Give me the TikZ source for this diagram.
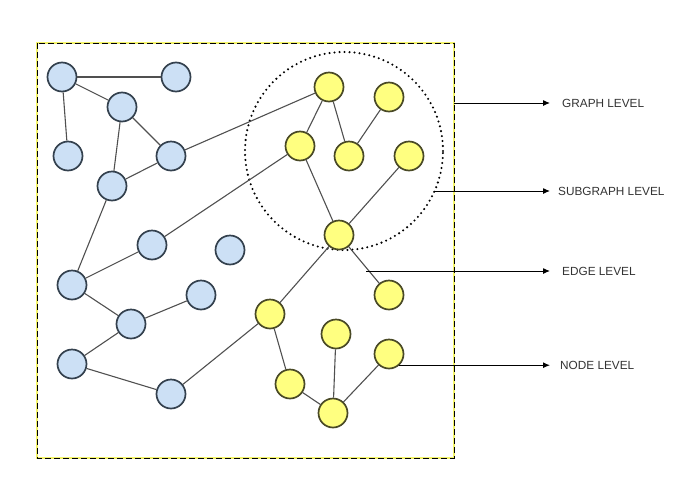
\documentclass[tikz,border=0pt]{standalone}
\usepackage{fontspec}
\setmainfont{Liberation Sans}
\usetikzlibrary{arrows.meta,shapes.geometric}
\definecolor{bluefill}{HTML}{CCE0F5}
\definecolor{blueline}{HTML}{34414E}
\definecolor{yelfill}{HTML}{FFFF80}
\definecolor{yelline}{HTML}{4A4A26}
\definecolor{edgegray}{HTML}{505050}
\definecolor{framey}{HTML}{F4F46A}
\begin{document}
\begin{tikzpicture}[x=1pt,y=-1pt,
    bnode/.style={circle,draw=blueline,fill=bluefill,line width=1.7pt,minimum size=29pt,inner sep=0pt},
    ynode/.style={circle,draw=yelline,fill=yelfill,line width=1.7pt,minimum size=29pt,inner sep=0pt},
    link/.style={draw=edgegray,line width=1.1pt},
    lvl/.style={line width=1pt,-{Latex[length=7pt,width=6pt]}},
    lvltext/.style={anchor=west,inner sep=0pt,font=\fontsize{11.8pt}{14pt}\selectfont,text=black!80}]
        \useasboundingbox (0,0) rectangle (693,485);

        % frame round the graph
        \draw[framey,line width=1.6pt] (37,43) rectangle (454,458);
        \draw[black,line width=1pt,dash pattern=on 6pt off 3pt] (37,43) rectangle (454,458);

        % subgraph
        \node[circle,draw,line width=2.3pt,line cap=round,dash pattern=on 0pt off 5pt,
              minimum size=198pt] (sub) at (344,151) {};

        % blue nodes
        \node[bnode] (b1) at (62,77) {};
        \node[bnode] (b2) at (176,77) {};
        \node[bnode] (b3) at (122,107) {};
        \node[bnode] (b4) at (68,156) {};
        \node[bnode] (b5) at (171,156) {};
        \node[bnode] (b6) at (112,186) {};
        \node[bnode] (b7) at (152,245) {};
        \node[bnode] (b8) at (230,250) {};
        \node[bnode] (b9) at (72,285) {};
        \node[bnode] (b10) at (201,295) {};
        \node[bnode] (b11) at (131,324) {};
        \node[bnode] (b12) at (72,364) {};
        \node[bnode] (b13) at (171,394) {};

        % yellow nodes
        \node[ynode] (y1) at (329,87) {};
        \node[ynode] (y2) at (389,97) {};
        \node[ynode] (y3) at (300,146) {};
        \node[ynode] (y4) at (349,156) {};
        \node[ynode] (y5) at (409,156) {};
        \node[ynode] (y6) at (339,235) {};
        \node[ynode] (y7) at (389,295) {};
        \node[ynode] (y8) at (270,314) {};
        \node[ynode] (y9) at (336,334) {};
        \node[ynode] (y10) at (389,354) {};
        \node[ynode] (y11) at (290,384) {};
        \node[ynode] (y12) at (333,413) {};

        % edges
        \foreach \a/\b in {b1/b2,b1/b3,b1/b4,b3/b5,b3/b6,b6/b5,b5/y1,b6/b9,b9/b7,b7/y3,
                           b9/b11,b11/b10,b11/b12,b12/b13,b13/y8,
                           y1/y3,y1/y4,y4/y2,y3/y6,y6/y5,y6/y7,y6/y8,
                           y8/y11,y11/y12,y12/y9,y12/y10}
            \draw[link] (\a) -- (\b);

        % levels
        \node[lvltext] (glev) at (562,103) {GRAPH LEVEL};
        \node[lvltext] (slev) at (558,191) {SUBGRAPH LEVEL};
        \node[lvltext] (elev) at (562,271) {EDGE LEVEL};
        \node[lvltext] (nlev) at (560,365) {NODE LEVEL};

        \coordinate (gstart) at (454,103);
        \coordinate (sstart) at (435,191);
        \coordinate (estart) at (366,271);
        \coordinate (nstart) at (y10.-47);

        \draw[lvl] (gstart) -- (gstart -| 550,0);
        \draw[lvl] (sstart) -- (sstart -| 550,0);
        \draw[lvl] (estart) -- (estart -| 550,0);
        \draw[lvl] (nstart) -- (nstart -| 550,0);
    \end{tikzpicture}
\end{document}
